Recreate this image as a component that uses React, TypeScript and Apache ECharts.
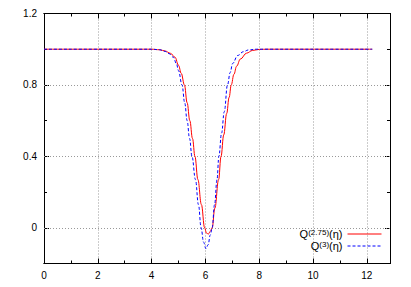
import { useEffect, useRef } from 'react';
import * as echarts from 'echarts';

// Q^(2.75)(eta) — red solid
const etaA = [0, 4.0, 4.3, 4.5, 4.7, 4.87, 5.0, 5.1, 5.22, 5.32, 5.42, 5.52, 5.61, 5.72, 5.85, 5.97, 6.04, 6.11, 6.18, 6.25, 6.35, 6.49, 6.58, 6.68, 6.79, 6.88, 6.96, 7.06, 7.16, 7.3, 7.53, 7.75, 8.0, 8.3, 12.2];
const qA = [1, 1, 0.997, 0.99, 0.977, 0.955, 0.91, 0.865, 0.8, 0.7, 0.6, 0.5, 0.4, 0.27, 0.13, 0.0, -0.03, -0.035, -0.02, 0.0, 0.11, 0.27, 0.4, 0.52, 0.64, 0.73, 0.8, 0.86, 0.905, 0.945, 0.978, 0.993, 0.999, 1, 1];

// Q^(3)(eta) — blue dashed
const etaB = [0, 4.0, 4.3, 4.5, 4.65, 4.81, 4.92, 5.0, 5.13, 5.23, 5.32, 5.41, 5.5, 5.63, 5.74, 5.84, 5.93, 6.02, 6.1, 6.18, 6.25, 6.34, 6.43, 6.5, 6.6, 6.7, 6.82, 6.92, 7.01, 7.2, 7.41, 7.6, 7.9, 12.2];
const qB = [1, 1, 0.997, 0.988, 0.975, 0.955, 0.92, 0.88, 0.8, 0.7, 0.6, 0.5, 0.4, 0.27, 0.13, 0.0, -0.08, -0.117, -0.095, -0.04, 0.0, 0.13, 0.27, 0.4, 0.53, 0.65, 0.8, 0.87, 0.92, 0.965, 0.986, 0.996, 1, 1];

const seriesNames = ['Q(2.75)(η)', 'Q(3)(η)'];
const seriesSup = ['(2.75)', '(3)'];

const yMajorTicks = [0, 0.4, 0.8, 1.2];
const yGridLines = [0, 0.4, 0.8];

const xMin = 0;
const xMax = 12.86;
const yMin = -0.2;
const yMax = 1.2;

const FONT = 'Liberation Sans, Arial, Helvetica, sans-serif';

export default function App() {
  const ref = useRef<HTMLDivElement>(null);
  useEffect(() => {
    if (!ref.current) return;
    const chart = echarts.init(ref.current, undefined, { renderer: 'svg' });
    const axisLine = { show: true, onZero: false, lineStyle: { color: '#000', width: 1 } };
    const grid = { type: [1, 2], color: '#999', width: 1 };
    const xLabel = (v: number) => {
      const r = Math.round(v * 1000) / 1000;
      return Number.isInteger(r) && r % 2 === 0 ? String(r) : '';
    };
    const yLabel = (v: number) => {
      const r = Math.round(v * 1000) / 1000;
      const k = r / 0.4;
      return Math.abs(k - Math.round(k)) < 1e-6 ? String(r) : '';
    };
    const mkX = (pos: string, interval: number, len: number, labels: boolean, split: boolean) => ({
      type: 'value', position: pos, min: xMin, max: xMax, interval,
      axisLine, axisTick: { show: true, inside: true, length: len, lineStyle: { color: '#000' } },
      axisLabel: { show: labels, formatter: xLabel, color: '#000', fontSize: 10, fontFamily: FONT, margin: 7, showMaxLabel: false },
      splitLine: { show: split, lineStyle: grid },
    });
    const mkY = (pos: string, len: number, labels: boolean, major: boolean) => ({
      type: 'value', position: pos, min: yMin, max: yMax, interval: 0.2,
      axisLine,
      axisTick: major
        ? { show: true, inside: true, length: len, customValues: yMajorTicks, lineStyle: { color: '#000' } }
        : { show: true, inside: true, length: len, lineStyle: { color: '#000' } },
      axisLabel: { show: labels, formatter: yLabel, color: '#000', fontSize: 10, fontFamily: FONT, margin: 7, showMinLabel: false },
      splitLine: { show: false },
    });
    const rich = {
      n: { fontSize: 11, fontFamily: FONT, color: '#000', lineHeight: 11, verticalAlign: 'bottom' },
      s: { fontSize: 8, fontFamily: FONT, color: '#000', lineHeight: 11, verticalAlign: 'top', padding: [0, 0, 4, 0] },
    };
    chart.setOption({
      animation: false,
      grid: { left: 44, right: 21, top: 13.5, bottom: 23.5, containLabel: false },
      xAxis: [
        mkX('bottom', 1, 3, true, false),
        mkX('bottom', 2, 5, false, true),
        mkX('top', 1, 3, false, false),
        mkX('top', 2, 5, false, false),
      ],
      yAxis: [
        mkY('left', 3, true, false),
        mkY('left', 5, false, true),
        mkY('right', 3, false, false),
        mkY('right', 5, false, true),
      ],
      legend: {
        orient: 'vertical', right: 29, top: 228.5, align: 'right', padding: 0,
        itemWidth: 34, itemHeight: 8, itemGap: 0,
        itemStyle: { opacity: 0 },
        lineStyle: { width: 1 },
        data: seriesNames,
        formatter: (name: string) => {
          const i = seriesNames.indexOf(name);
          return `{n|Q}{s|${seriesSup[i]}}{n|(η)}`;
        },
        textStyle: { rich },
      },
      series: [
        {
          name: seriesNames[0], type: 'line', symbol: 'none', smooth: 0.4, smoothMonotone: 'x',
          xAxisIndex: 0, yAxisIndex: 0, z: 3,
          lineStyle: { color: '#ff0000', width: 1 }, itemStyle: { color: '#ff0000' },
          data: etaA.map((x, i) => [x, qA[i]]),
          markLine: {
            silent: true, symbol: 'none', animation: false, z: 1,
            label: { show: false },
            lineStyle: grid,
            data: yGridLines.map((v) => ({ yAxis: v })),
          },
        },
        {
          name: seriesNames[1], type: 'line', symbol: 'none', smooth: 0.4, smoothMonotone: 'x',
          xAxisIndex: 0, yAxisIndex: 0, z: 3,
          lineStyle: { color: '#0000ff', width: 1, type: [3, 2] }, itemStyle: { color: '#0000ff' },
          data: etaB.map((x, i) => [x, qB[i]]),
        },
      ],
    });
    return () => chart.dispose();
  }, []);
  return <div ref={ref} style={{ position: 'fixed', left: 0, top: 0, width: 411, height: 287, background: '#fff' }} />;
}
